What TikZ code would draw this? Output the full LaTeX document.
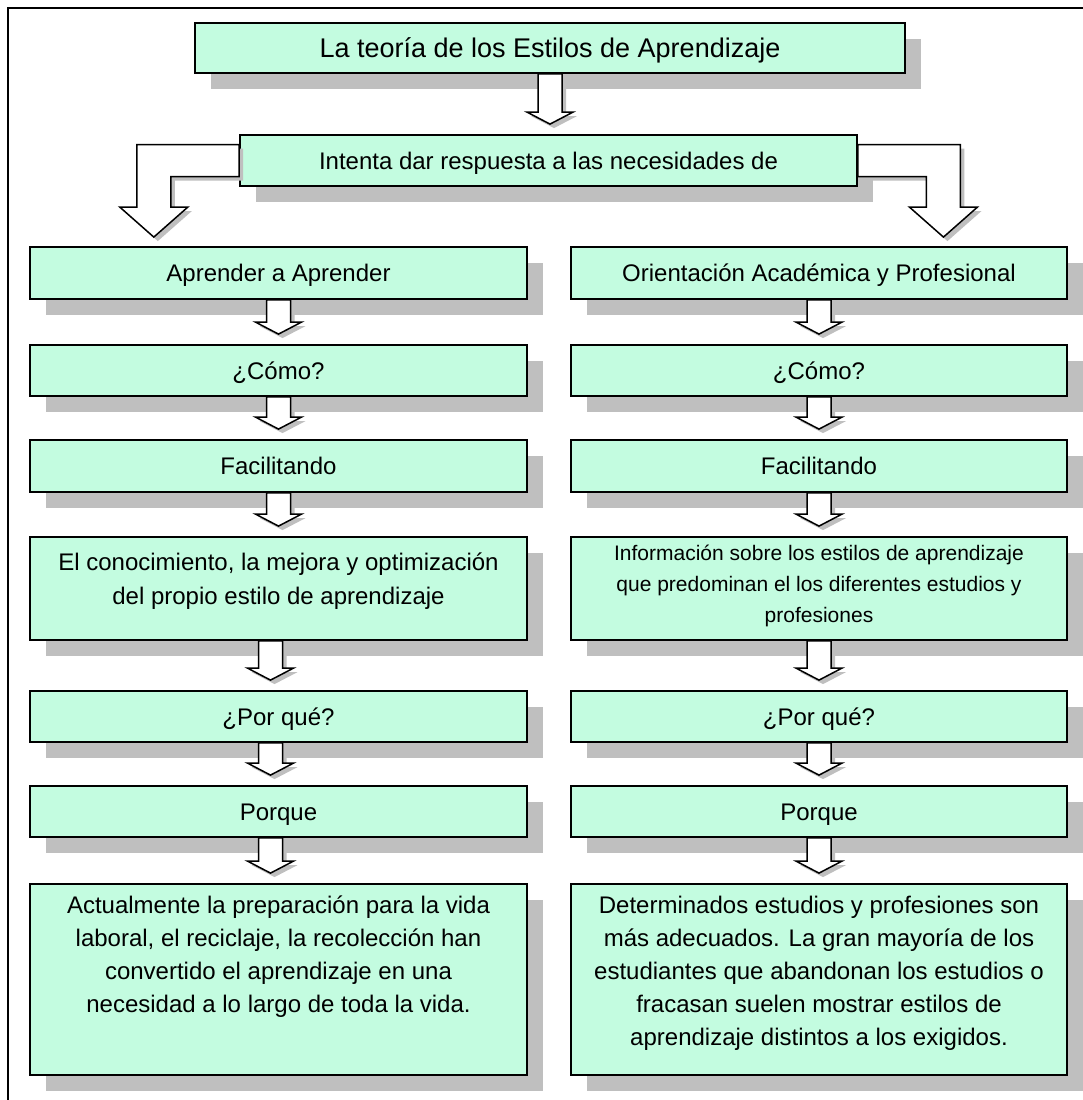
\documentclass[tikz,border=0pt]{standalone}
\usepackage{fontspec}
\setmainfont{Liberation Sans}
\usetikzlibrary{calc,shadows}

\definecolor{menta}{RGB}{195,252,224}
\definecolor{gris}{RGB}{191,191,191}

\tikzset{
  caja/.style={draw, line width=1.8pt, fill=menta, inner sep=0pt,
    drop shadow={shadow xshift=16pt, shadow yshift=-16pt, fill=gris, opacity=1},
    font=\fontsize{24}{33}\selectfont, text height=17pt, text depth=0pt},
  izq/.style={caja, minimum width=497pt},
  der/.style={caja, minimum width=496pt},
  texto/.style={align=center, inner sep=0pt, font=\fontsize{24}{33}\selectfont},
  bloque/.style={draw, line width=1.5pt, fill=white,
    drop shadow={shadow xshift=4pt, shadow yshift=-4pt, fill=gris, opacity=1}},
}

% flecha hueca hacia abajo, de #2 a #3
\newcommand{\bajar}[3][0pt]{%
  \draw[bloque] let \p1=([xshift=#1]#2.south), \p2=(#3.north) in
    (\x1-12pt,\y1) -- (\x1-12pt,\y2+22pt) -- (\x1-23pt,\y2+22pt) -- (\x1,\y2+10pt)
    -- (\x1+23pt,\y2+22pt) -- (\x1+12pt,\y2+22pt) -- (\x1+12pt,\y1) -- cycle;}

\begin{document}
\begin{tikzpicture}[x=1pt, y=-1pt]
  \useasboundingbox (0,0) rectangle (1083,1100);
  \clip (0,0) rectangle (1083,1100);
  \draw[line width=2pt] (8,8) rectangle (1100,1120);

  \node[caja, minimum width=710pt, minimum height=50pt, font=\fontsize{27}{33}\selectfont, text height=19pt] (teoria) at (550,48) {La teoría de los Estilos de Aprendizaje};
  \node[caja, minimum width=617pt, minimum height=51pt] (intenta) at (548.5,160.5) {Intenta dar respuesta a las necesidades de};

  % columna izquierda
  \node[izq, minimum height=52pt] (a1) at (278.5,273) {Aprender a Aprender};
  \node[izq, minimum height=51pt] (a2) at (278.5,370.5) {¿Cómo?};
  \node[izq, minimum height=52pt] (a3) at (278.5,466) {Facilitando};
  \node[izq, minimum height=103pt] (a4) at (278.5,588.5) {};
  \node[izq, minimum height=51pt] (a5) at (278.5,716.5) {¿Por qué?};
  \node[izq, minimum height=51pt] (a6) at (278.5,811.5) {Porque};
  \node[izq, minimum height=191pt] (a7) at (278.5,979.5) {};

  % columna derecha
  \node[der, minimum height=52pt] (o1) at (819,273) {Orientación Académica y Profesional};
  \node[der, minimum height=51pt] (o2) at (819,370.5) {¿Cómo?};
  \node[der, minimum height=52pt] (o3) at (819,466) {Facilitando};
  \node[der, minimum height=103pt] (o4) at (819,588.5) {};
  \node[der, minimum height=51pt] (o5) at (819,716.5) {¿Por qué?};
  \node[der, minimum height=51pt] (o6) at (819,811.5) {Porque};
  \node[der, minimum height=191pt] (o7) at (819,979.5) {};

  \node[texto, font=\fontsize{24}{34}\selectfont] (a4t) at (278.5,581) {El conocimiento, la mejora y optimización\\del propio estilo de aprendizaje};
  \node[texto, font=\fontsize{21}{31}\selectfont] (o4t) at (819,586) {Información sobre los estilos de aprendizaje\\que predominan el los diferentes estudios y\\profesiones};
  \node[texto] (a7t) at (278.5,957) {Actualmente la preparación para la vida\\laboral, el reciclaje, la recolección han\\convertido el aprendizaje en una\\necesidad a lo largo de toda la vida.};
  \node[texto] (o7t) at (819,973) {Determinados estudios y profesiones son\\más adecuados. La gran mayoría de los\\estudiantes que abandonan los estudios o\\fracasan suelen mostrar estilos de\\aprendizaje distintos a los exigidos.};

  % flechas
  \bajar{teoria}{intenta}
  \foreach \a/\b in {a1/a2,a2/a3,a3/a4,o1/o2,o2/o3,o3/o4,o4/o5,o5/o6,o6/o7}
    {\bajar{\a}{\b}}
  \foreach \a/\b in {a4/a5,a5/a6,a6/a7}
    {\bajar[-8pt]{\a}{\b}}

  \coordinate (izq) at ($(a1.north west)!0.25!(a1.north east)$);
  \coordinate (der) at ($(o1.north west)!0.75!(o1.north east)$);
  \draw[bloque] let \p1=(intenta.west), \p2=(izq) in
    (\x1,\y1+16pt) -- (\x2-17pt,\y1+16pt) -- (\x2-17pt,\y2+39pt) -- (\x2-34pt,\y2+39pt)
    -- (\x2,\y2+9pt) -- (\x2+34pt,\y2+39pt) -- (\x2+17pt,\y2+39pt) -- (\x2+17pt,\y1-16pt)
    -- (\x1,\y1-16pt) -- cycle;
  \draw[bloque] let \p1=(intenta.east), \p2=(der) in
    (\x1,\y1+16pt) -- (\x2+17pt,\y1+16pt) -- (\x2+17pt,\y2+39pt) -- (\x2+34pt,\y2+39pt)
    -- (\x2,\y2+9pt) -- (\x2-34pt,\y2+39pt) -- (\x2-17pt,\y2+39pt) -- (\x2-17pt,\y1-16pt)
    -- (\x1,\y1-16pt) -- cycle;
\end{tikzpicture}
\end{document}
